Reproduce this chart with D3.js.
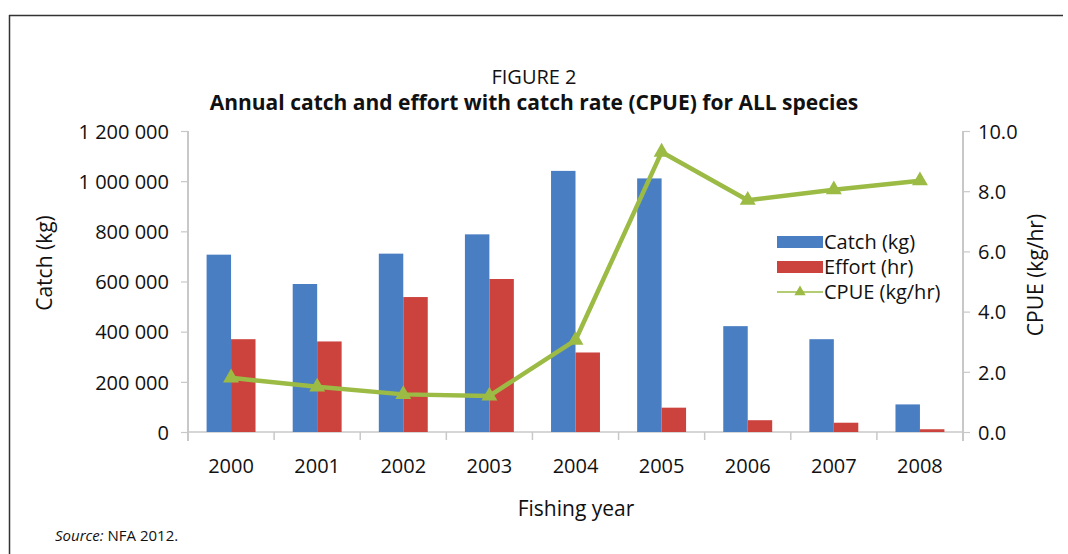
<!DOCTYPE html>
<html>
<head>
<meta charset="utf-8">
<script src="https://cdn.jsdelivr.net/npm/d3@7"></script>
<style>
  html, body { margin: 0; padding: 0; background: #ffffff; }
  svg text { font-family: "Open Sans", "Noto Sans", sans-serif; fill: #111; }
</style>
</head>
<body>
<svg id="chart" width="1068" height="554"></svg>
<script>
// Fishing years and annual series
const years = ["2000", "2001", "2002", "2003", "2004", "2005", "2006", "2007", "2008"];
const catchKg = [707000, 590000, 711000, 788000, 1041000, 1011000, 422000, 370000, 110000];
const effortHr = [370000, 361000, 538000, 610000, 317000, 97000, 47000, 37000, 11000];
const cpue = [1.8, 1.5, 1.25, 1.2, 3.05, 9.3, 7.7, 8.05, 8.35];

// Axis tick values
const leftTicks = [0, 200000, 400000, 600000, 800000, 1000000, 1200000];
const rightTicks = [0, 2, 4, 6, 8, 10];

const seriesNames = ["Catch (kg)", "Effort (hr)", "CPUE (kg/hr)"];
const colors = { catch: "#4a7ec2", effort: "#cc433e", cpue: "#9bbb45" };

const svg = d3.select("#chart");

// Figure frame (top and left rules)
svg.append("line").attr("x1", 9).attr("x2", 1063).attr("y1", 15.5).attr("y2", 15.5)
  .attr("stroke", "#333").attr("stroke-width", 1.5);
svg.append("line").attr("x1", 9.5).attr("x2", 9.5).attr("y1", 15).attr("y2", 554)
  .attr("stroke", "#333").attr("stroke-width", 1.5);

// Titles
svg.append("text").attr("x", 534).attr("y", 84).attr("text-anchor", "middle")
  .style("font-size", "20px").text("FIGURE 2");
svg.append("text").attr("x", 534).attr("y", 110).attr("text-anchor", "middle")
  .style("font-size", "21px").style("font-weight", "bold")
  .text("Annual catch and effort with catch rate (CPUE) for ALL species");

const plot = { left: 188, right: 963, top: 131, bottom: 432 };

const x0 = d3.scaleBand().domain(years).range([plot.left, plot.right]).padding(0);
const x1 = d3.scaleBand().domain(["catch", "effort"]).range([0, x0.bandwidth()])
  .paddingInner(0).paddingOuter(0.76);
const yL = d3.scaleLinear().domain([0, 1200000]).range([plot.bottom, plot.top]);
const yR = d3.scaleLinear().domain([0, 10]).range([plot.bottom, plot.top]);

const fmtSpace = v => d3.format(",")(v).replace(/,/g, "\u2008");

// Left axis
const gL = svg.append("g").attr("transform", `translate(${plot.left},0)`)
  .call(d3.axisLeft(yL).tickValues(leftTicks).tickFormat(fmtSpace).tickSize(7).tickPadding(12).tickSizeOuter(0));
gL.select(".domain").remove();
gL.selectAll(".tick line").attr("stroke", "#c8c8c8").attr("stroke-width", 1.2);
gL.selectAll(".tick text").style("font-size", "20px").attr("dy", "0.36em");
svg.append("line").attr("x1", plot.left).attr("x2", plot.left).attr("y1", plot.top).attr("y2", plot.bottom + 9)
  .attr("stroke", "#c8c8c8").attr("stroke-width", 2);

// Right axis
const gR = svg.append("g").attr("transform", `translate(${plot.right},0)`)
  .call(d3.axisRight(yR).tickValues(rightTicks).tickFormat(d3.format(".1f")).tickSize(7).tickPadding(8).tickSizeOuter(0));
gR.select(".domain").remove();
gR.selectAll(".tick line").attr("stroke", "#c8c8c8").attr("stroke-width", 1.2);
gR.selectAll(".tick text").style("font-size", "20px").attr("dy", "0.36em");
svg.append("line").attr("x1", plot.right).attr("x2", plot.right).attr("y1", plot.top).attr("y2", plot.bottom + 9)
  .attr("stroke", "#c8c8c8").attr("stroke-width", 2);

// Category axis: baseline, boundary ticks, year labels
svg.append("line").attr("x1", plot.left).attr("x2", plot.right).attr("y1", plot.bottom).attr("y2", plot.bottom)
  .attr("stroke", "#c8c8c8").attr("stroke-width", 1.5);
svg.append("g").selectAll("line").data(years.slice(1)).join("line")
  .attr("x1", d => x0(d)).attr("x2", d => x0(d))
  .attr("y1", plot.bottom).attr("y2", plot.bottom + 8)
  .attr("stroke", "#c8c8c8").attr("stroke-width", 1.5);
svg.append("g").selectAll("text").data(years).join("text")
  .attr("x", d => x0(d) + x0.bandwidth() / 2).attr("y", 473)
  .attr("text-anchor", "middle").style("font-size", "20px").text(d => d);

// Bars
const groups = svg.append("g").selectAll("g").data(years).join("g")
  .attr("transform", d => `translate(${x0(d)},0)`);
groups.append("rect")
  .attr("x", x1("catch")).attr("width", x1.bandwidth())
  .attr("y", (d, i) => yL(catchKg[i])).attr("height", (d, i) => plot.bottom - yL(catchKg[i]))
  .attr("fill", colors.catch);
groups.append("rect")
  .attr("x", x1("effort")).attr("width", x1.bandwidth())
  .attr("y", (d, i) => yL(effortHr[i])).attr("height", (d, i) => plot.bottom - yL(effortHr[i]))
  .attr("fill", colors.effort);

// CPUE line with triangle markers
const cx = (d, i) => x0(years[i]) + x0.bandwidth() / 2;
const line = d3.line().x((d, i) => cx(d, i)).y(d => yR(d));
svg.append("path").datum(cpue).attr("d", line)
  .attr("fill", "none").attr("stroke", colors.cpue).attr("stroke-width", 4.5)
  .attr("stroke-linejoin", "round");
const tri = d3.symbol().type(d3.symbolTriangle).size(110);
svg.append("g").selectAll("path").data(cpue).join("path")
  .attr("d", tri)
  .attr("transform", (d, i) => `translate(${cx(d, i)},${yR(d)})`)
  .attr("fill", colors.cpue);

// Axis titles
svg.append("text").attr("transform", "translate(52,263) rotate(-90)")
  .attr("text-anchor", "middle").style("font-size", "21px").text("Catch (kg)");
svg.append("text").attr("transform", "translate(1043,275) rotate(-90)")
  .attr("text-anchor", "middle").style("font-size", "21px").text("CPUE (kg/hr)");
svg.append("text").attr("x", 576).attr("y", 516)
  .attr("text-anchor", "middle").style("font-size", "21px").text("Fishing year");

// Legend
const legend = svg.append("g").attr("transform", "translate(777,0)");
const legRows = [242, 267, 292];
legend.append("rect").attr("x", 0).attr("y", legRows[0] - 6).attr("width", 46).attr("height", 12).attr("fill", colors.catch);
legend.append("rect").attr("x", 0).attr("y", legRows[1] - 6).attr("width", 46).attr("height", 12).attr("fill", colors.effort);
legend.append("line").attr("x1", 0).attr("x2", 46).attr("y1", legRows[2]).attr("y2", legRows[2])
  .attr("stroke", colors.cpue).attr("stroke-width", 1.5);
legend.append("path").attr("d", d3.symbol().type(d3.symbolTriangle).size(55))
  .attr("transform", `translate(23,${legRows[2]})`).attr("fill", colors.cpue);
legend.selectAll("text").data(seriesNames).join("text")
  .attr("x", 47).attr("y", (d, i) => legRows[i]).attr("dy", "0.36em")
  .style("font-size", "20px").text(d => d);

// Source note
const src = svg.append("text").attr("x", 55).attr("y", 541).style("font-size", "15px");
src.append("tspan").style("font-style", "italic").text("Source:");
src.append("tspan").text(" NFA 2012.");
</script>
</body>
</html>
